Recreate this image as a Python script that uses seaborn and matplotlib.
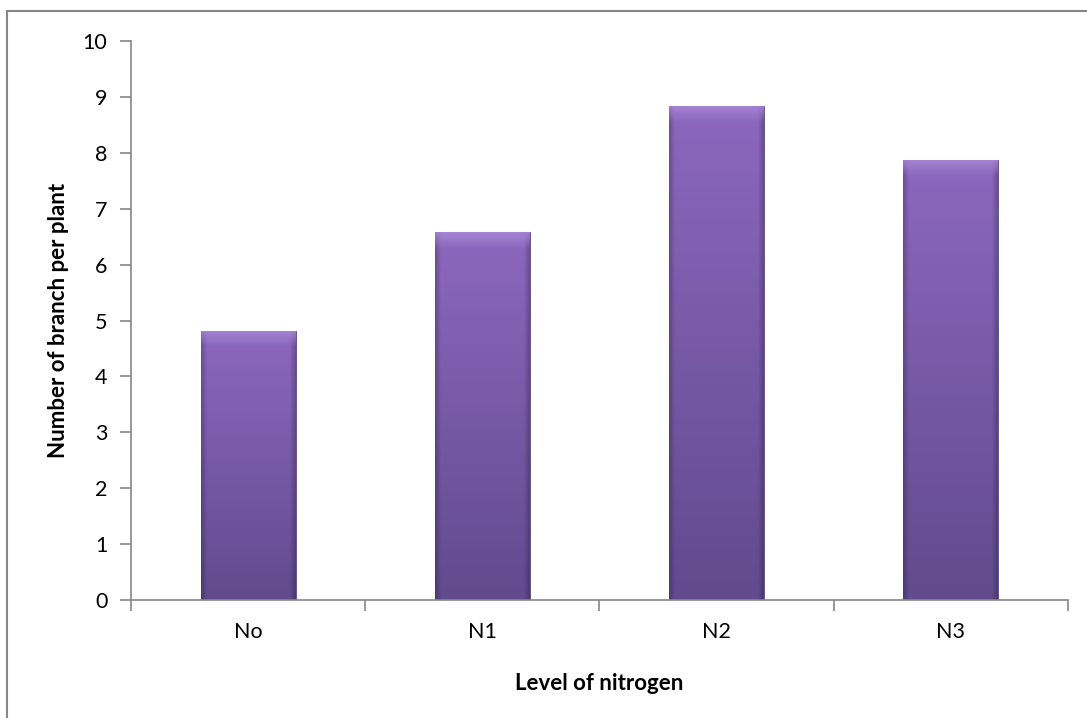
import numpy as np
import pandas as pd
import matplotlib
matplotlib.use("Agg")
import matplotlib.pyplot as plt
import seaborn as sns
from matplotlib.lines import Line2D
from matplotlib.colors import to_rgb

levels = ["No", "N1", "N2", "N3"]
branches = [4.82, 6.58, 8.84, 7.88]

x_label = "Level of nitrogen"
y_label = "Number of branch per plant"

df = pd.DataFrame({"level": levels, "branches": branches})

sns.set_theme(style="white")
plt.rcParams["font.family"] = ["Lato", "DejaVu Sans"]

fig = plt.figure(figsize=(10.87, 7.18), dpi=100)
ax = fig.add_axes([0.1205, 0.1643, 0.862, 0.7786])

sns.barplot(data=df, x="level", y="branches", color="#7B5AA6",
            width=0.405, ax=ax, saturation=1)


def bevel_image(h_px=200, w_px=100):
    # vertical shading from light top to darker bottom, with bevelled edges
    top = np.array(to_rgb("#8C68BE"))
    bottom = np.array(to_rgb("#614A8E"))
    t = np.linspace(0, 1, h_px)[:, None, None]
    img = top * (1 - t) + bottom * t
    img = np.repeat(img, w_px, axis=1)
    xs = np.linspace(0, 1, w_px)
    edge = np.minimum(xs, 1 - xs)
    dark = np.clip(1 - edge / 0.06, 0, 1)[None, :, None]
    img = img * (1 - 0.22 * dark)
    return img


for patch in ax.patches:
    x0, y0 = patch.get_x(), patch.get_y()
    w, h = patch.get_width(), patch.get_height()
    img = bevel_image()
    # top bevel highlight, scaled to fixed pixel height
    bev = 0.28 / h
    rows = np.linspace(1, 0, img.shape[0])
    hl = np.clip(1 - (1 - rows) / max(bev, 1e-3), 0, 1)
    hl = hl[:, None, None]
    light = np.array(to_rgb("#A98AD6"))
    img = img * (1 - 0.8 * hl) + light * 0.8 * hl
    im = ax.imshow(img, extent=[x0, x0 + w, y0, y0 + h], aspect="auto",
                   origin="upper", zorder=patch.get_zorder() + 0.1)
    im.set_clip_path(patch)
    patch.set_edgecolor("#5A4783")
    patch.set_linewidth(0.6)

ax.set_xlim(-0.5, 3.5)
ax.set_ylim(0, 10)
ax.set_yticks(range(0, 11))

axis_grey = "#868686"
for side in ["top", "right"]:
    ax.spines[side].set_visible(False)
for side in ["left", "bottom"]:
    ax.spines[side].set_color(axis_grey)
    ax.spines[side].set_linewidth(1.2)

ax.set_xticks(np.arange(-0.5, 4.0, 1.0), minor=True)
ax.tick_params(axis="x", which="major", length=0, pad=16, labelsize=15.5,
               labelcolor="black")
ax.tick_params(axis="x", which="minor", length=8, width=1.2,
               color=axis_grey, direction="out", bottom=True)
ax.tick_params(axis="y", which="major", length=8, width=1.2,
               color=axis_grey, direction="out", left=True, pad=9,
               labelsize=15.5, labelcolor="black")

ax.set_xlabel(x_label, fontsize=16, fontweight="bold", color="black",
              labelpad=22)
ax.set_ylabel(y_label, fontsize=16, fontweight="bold", color="black",
              labelpad=10)

# chart frame (left and top edges visible)
fig.add_artist(Line2D([7 / 1087, 7 / 1087], [0, 1 - 11 / 718],
                      color=axis_grey, lw=1.5, transform=fig.transFigure))
fig.add_artist(Line2D([7 / 1087, 1], [1 - 11 / 718, 1 - 11 / 718],
                      color=axis_grey, lw=1.5, transform=fig.transFigure))

fig.savefig("out.png", dpi=100)
